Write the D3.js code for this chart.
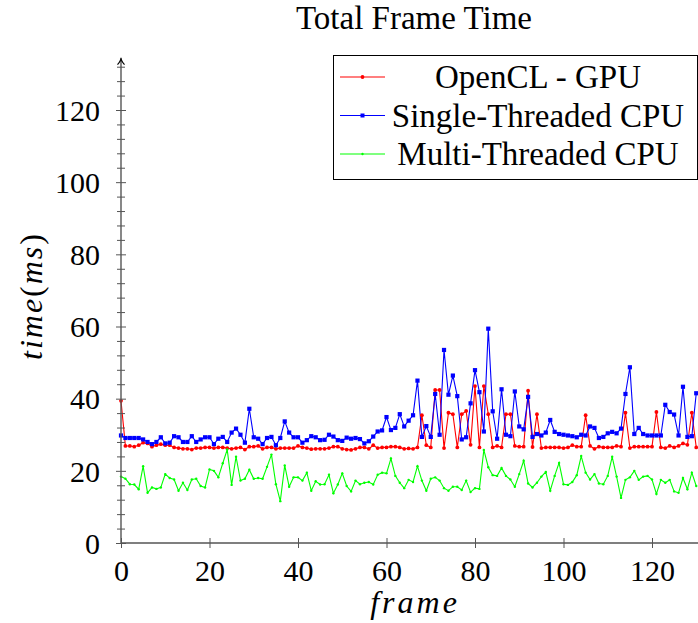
<!DOCTYPE html>
<html>
<head>
<meta charset="utf-8">
<script src="https://cdn.jsdelivr.net/npm/d3@7"></script>
<style>
  body { margin: 0; background: #fff; }
  svg { display: block; font-family: 'Liberation Serif', 'DejaVu Serif', serif; }
  svg text { font-family: 'Liberation Serif', 'DejaVu Serif', serif; }
</style>
</head>
<body>
<svg id="chart" width="698" height="623"></svg>
<script>
// frame time per frame (ms)
const GPU = [
  39.4, 26.9, 26.9, 26.7, 27.1, 27.8, 27.6, 26.7, 27.1, 27.4,
  27.1, 27.1, 26.5, 26.3, 26.1, 26.1, 25.9, 26.3, 26.3, 26.5,
  26.5, 26.3, 26.5, 26.5, 26.3, 26.1, 26.3, 26.5, 25.9, 26.7,
  26.7, 26.9, 26.1, 26.5, 26.5, 26.1, 26.3, 26.3, 26.3, 26.3,
  26.9, 26.5, 26.3, 26.0, 26.1, 26.1, 26.1, 26.3, 26.7, 26.7,
  26.1, 25.9, 25.8, 26.1, 26.5, 26.5, 26.1, 27.1, 26.3, 26.5,
  26.5, 26.7, 26.7, 26.5, 26.1, 26.2, 26.1, 26.5, 35.4, 27.1,
  26.5, 42.4, 42.4, 26.3, 36.1, 35.7, 26.5, 35.7, 36.6, 27.2,
  43.5, 26.5, 43.5, 35.7, 26.5, 26.9, 26.5, 35.7, 35.7, 26.9,
  26.7, 26.7, 42.2, 26.6, 35.7, 26.3, 26.5, 26.5, 26.5, 26.5,
  26.3, 26.5, 27.1, 26.7, 26.7, 35.4, 26.9, 26.1, 26.7, 26.5,
  26.5, 26.5, 26.9, 26.7, 36.1, 26.3, 26.7, 26.7, 26.7, 26.7,
  26.7, 36.3, 26.5, 26.3, 26.9, 26.5, 26.9, 27.6, 27.2, 36.1,
  26.5
];
const SINGLE = [
  29.8, 29.1, 29.1, 29.1, 29.1, 28.7, 28.0, 27.4, 28.0, 29.3,
  27.6, 27.8, 29.6, 29.3, 28.0, 28.0, 29.6, 28.0, 28.7, 29.3,
  29.3, 27.4, 28.9, 29.4, 28.0, 30.6, 31.7, 30.0, 27.8, 37.2,
  29.3, 28.9, 27.4, 29.1, 29.4, 27.1, 29.1, 33.7, 30.6, 29.3,
  29.3, 27.8, 28.5, 29.6, 29.3, 28.5, 28.6, 30.0, 29.5, 28.5,
  28.3, 29.2, 28.9, 29.1, 28.8, 27.6, 28.2, 29.5, 30.9, 31.2,
  34.9, 31.3, 31.9, 35.7, 32.3, 33.9, 35.4, 45.0, 29.4, 32.4,
  29.4, 41.3, 30.0, 53.5, 41.1, 46.4, 40.7, 28.7, 29.3, 38.7,
  47.9, 41.8, 30.9, 59.4, 36.5, 28.9, 42.6, 30.0, 29.6, 42.0,
  32.3, 31.5, 40.5, 29.4, 30.2, 29.8, 30.6, 34.1, 30.8, 30.2,
  30.0, 29.8, 29.6, 29.3, 30.0, 29.8, 32.3, 31.9, 29.1, 29.4,
  30.4, 30.8, 30.4, 31.7, 41.3, 48.7, 30.2, 31.9, 30.2, 29.8,
  29.8, 29.8, 29.8, 38.3, 36.3, 35.6, 29.8, 43.3, 29.4, 29.6,
  41.5
];
const MULTI = [
  18.4, 17.8, 16.3, 16.2, 14.9, 21.3, 13.9, 15.4, 15.0, 15.4,
  19.1, 18.0, 17.6, 14.5, 16.7, 14.7, 17.6, 17.8, 15.8, 15.4,
  20.4, 20.0, 18.2, 22.1, 25.9, 16.1, 23.9, 17.3, 17.8, 20.3,
  17.8, 18.0, 17.8, 21.1, 24.5, 16.3, 11.6, 21.5, 15.6, 18.2,
  18.2, 17.3, 19.5, 14.5, 17.1, 16.2, 16.3, 18.9, 13.8, 16.2,
  19.3, 15.8, 14.3, 17.3, 16.3, 16.7, 16.9, 16.2, 18.9, 19.5,
  19.3, 23.4, 18.6, 16.7, 15.2, 17.5, 16.9, 21.3, 17.3, 14.5,
  17.8, 18.2, 17.3, 15.2, 14.5, 15.6, 15.6, 14.7, 17.3, 14.1,
  15.2, 15.0, 25.8, 21.0, 18.8, 18.6, 20.8, 18.6, 17.6, 15.6,
  19.1, 22.8, 16.5, 15.4, 16.7, 18.4, 19.7, 14.5, 18.6, 22.2,
  16.3, 16.1, 16.9, 18.8, 24.1, 19.5, 17.6, 19.1, 16.5, 16.3,
  18.6, 23.9, 18.4, 12.5, 17.5, 18.2, 20.0, 17.5, 18.4, 18.6,
  17.6, 13.6, 17.5, 16.7, 17.5, 14.3, 13.9, 18.0, 14.9, 19.5,
  15.8
];
const SERIES_NAMES = ['OpenCL - GPU', 'Single-Threaded CPU', 'Multi-Threaded CPU'];
const SERIES_COLORS = ['#ff0000', '#0000ff', '#00ff00'];
const X_TICKS = [0, 20, 40, 60, 80, 100, 120];
const Y_TICKS = [0, 20, 40, 60, 80, 100, 120];
const Y_MINOR = d3.range(0, 134, 4);
const Y_TOP = 134.5; // where the y axis arrow ends

const svg = d3.select('#chart');
const W = 698, H = 623;
const FONT = "'Liberation Serif', 'DejaVu Serif', serif";

const x = d3.scaleLinear().domain([0, 120]).range([121, 652]);
const y = d3.scaleLinear().domain([0, 120]).range([543, 110]);

const axisColor = '#555';

// title
svg.append('text')
  .attr('x', 414).attr('y', 29)
  .attr('text-anchor', 'middle')
  .style('font-size', '33px')
  .text('Total Frame Time');

const plot = svg.append('g');

// x axis
const xAxis = d3.axisBottom(x).tickValues(X_TICKS).tickSize(5).tickPadding(12);
const gx = svg.append('g').attr('transform', 'translate(0,' + y(0) + ')').call(xAxis);
gx.attr('font-family', FONT).attr('font-size', 30);
gx.select('.domain').remove();
gx.append('line').attr('x1', x(0)).attr('x2', W + 20).attr('stroke', axisColor).attr('stroke-width', 1.4);
gx.selectAll('.tick line').attr('y1', -5).attr('y2', 5).attr('stroke', axisColor);
gx.selectAll('.tick text').style('font-family', FONT).style('font-size', '30px').attr('fill', '#000');

// y axis
const yAxis = d3.axisLeft(y).tickValues(Y_TICKS).tickSize(5).tickPadding(16);
const gy = svg.append('g').attr('transform', 'translate(' + x(0) + ',0)').call(yAxis);
gy.attr('font-family', FONT).attr('font-size', 30);
gy.select('.domain').remove();
gy.append('line').attr('y1', y(0)).attr('y2', y(Y_TOP) + 2).attr('stroke', axisColor).attr('stroke-width', 1.4);
gy.selectAll('.tick line').attr('x1', -5).attr('x2', 5).attr('stroke', axisColor);
gy.selectAll('.tick text').style('font-family', FONT).style('font-size', '30px').attr('fill', '#000').attr('dy', '0.34em');

const yMinor = d3.axisLeft(y).tickValues(Y_MINOR.filter((v) => Y_TICKS.indexOf(v) < 0)).tickSize(4).tickFormat('');
const gym = svg.append('g').attr('transform', 'translate(' + x(0) + ',0)').call(yMinor);
gym.select('.domain').remove();
gym.selectAll('.tick line').attr('x1', -4).attr('x2', 4).attr('stroke', axisColor);

// arrow head on the y axis
svg.append('path')
  .attr('d', 'M' + (x(0) - 3.5) + ',' + (y(Y_TOP) + 7) + ' Q' + x(0) + ',' + (y(Y_TOP) + 3) + ' ' + x(0) + ',' + y(Y_TOP) +
    ' Q' + x(0) + ',' + (y(Y_TOP) + 3) + ' ' + (x(0) + 3.5) + ',' + (y(Y_TOP) + 7))
  .attr('fill', 'none').attr('stroke', '#000').attr('stroke-width', 1.2);

// axis labels
svg.append('text')
  .attr('x', 415).attr('y', 613)
  .attr('text-anchor', 'middle')
  .style('font-size', '32px').style('font-style', 'italic').style('letter-spacing', '3px')
  .text('frame');

const yl = svg.append('text')
  .attr('transform', 'translate(42,296) rotate(-90)')
  .attr('text-anchor', 'middle')
  .style('font-size', '32px').style('letter-spacing', '2px');
yl.append('tspan').style('font-style', 'italic').text('time');
yl.append('tspan').text('(');
yl.append('tspan').style('font-style', 'italic').text('ms');
yl.append('tspan').text(')');

// series
const allSeries = [GPU, SINGLE, MULTI];
const line = d3.line().x((d, i) => x(i)).y((d) => y(d));

allSeries.forEach((vals, k) => {
  plot.append('path')
    .datum(vals)
    .attr('fill', 'none')
    .attr('stroke', SERIES_COLORS[k])
    .attr('stroke-width', 1.1)
    .attr('d', line);
});

// markers
plot.selectAll('.m-gpu').data(GPU).enter().append('circle')
  .attr('cx', (d, i) => x(i)).attr('cy', (d) => y(d)).attr('r', 1.9)
  .attr('fill', SERIES_COLORS[0]);
plot.selectAll('.m-single').data(SINGLE).enter().append('rect')
  .attr('x', (d, i) => x(i) - 2.1).attr('y', (d) => y(d) - 2.1)
  .attr('width', 4.2).attr('height', 4.2)
  .attr('fill', SERIES_COLORS[1]);
plot.selectAll('.m-multi').data(MULTI).enter().append('circle')
  .attr('cx', (d, i) => x(i)).attr('cy', (d) => y(d)).attr('r', 1.2)
  .attr('fill', SERIES_COLORS[2]);

// legend
const legend = svg.append('g');
legend.append('rect')
  .attr('x', 333.5).attr('y', 55.5).attr('width', 364).attr('height', 124)
  .attr('fill', '#fff').attr('stroke', '#000').attr('stroke-width', 1);

SERIES_NAMES.forEach((name, k) => {
  const ly = 77 + k * 38.5;
  legend.append('line')
    .attr('x1', 340).attr('x2', 385).attr('y1', ly).attr('y2', ly)
    .attr('stroke', SERIES_COLORS[k]).attr('stroke-width', 1.1);
  if (k === 1) {
    legend.append('rect').attr('x', 360.5).attr('y', ly - 2).attr('width', 4).attr('height', 4).attr('fill', SERIES_COLORS[k]);
  } else {
    legend.append('circle').attr('cx', 362.5).attr('cy', ly).attr('r', k === 0 ? 1.9 : 1.2).attr('fill', SERIES_COLORS[k]);
  }
  legend.append('text')
    .attr('x', 538).attr('y', ly + 11)
    .attr('text-anchor', 'middle')
    .style('font-size', '33px')
    .text(name);
});
</script>
</body>
</html>
